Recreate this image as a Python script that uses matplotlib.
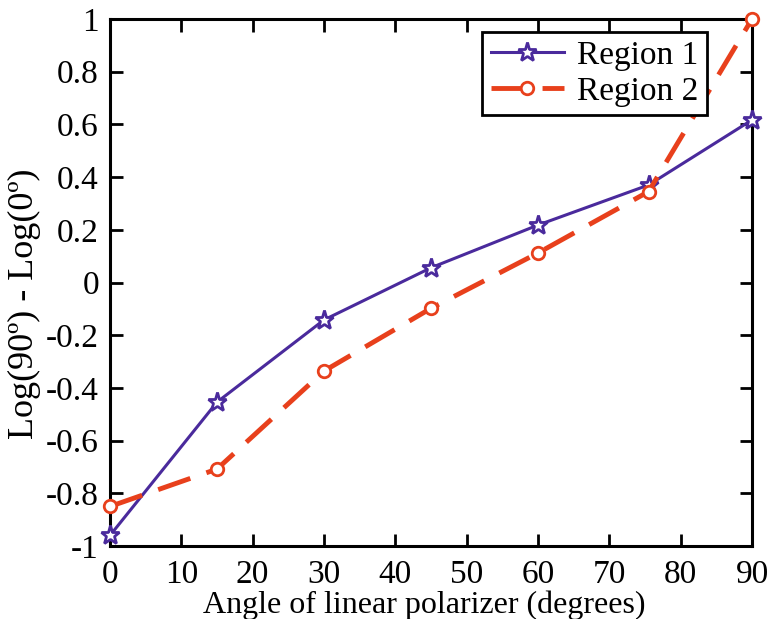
import matplotlib
matplotlib.use('Agg')
import matplotlib.pyplot as plt

# angle of linear polarizer (degrees)
angle_r1 = [0, 15, 30, 45, 60, 75.5, 90]
angle_r2 = [0, 15, 30, 45, 60, 75.5, 90]
# Log(90) - Log(0)
region1 = [-0.96, -0.454, -0.142, 0.056, 0.218, 0.37, 0.617]
region2 = [-0.85, -0.708, -0.336, -0.098, 0.112, 0.345, 1.0]

plt.rcParams['font.family'] = ['Liberation Serif', 'DejaVu Serif']
plt.rcParams['font.size'] = 24

fig = plt.figure(figsize=(7.71, 6.19), dpi=100)
ax = fig.add_axes([110 / 771, 1 - 546 / 619, 642 / 771, 527 / 619])

ax.plot(angle_r1, region1, color='#4a2a9c', linewidth=2.2, marker='*',
        markersize=14, markerfacecolor='white', markeredgecolor='#4a2a9c',
        markeredgewidth=2, label='Region 1', clip_on=False, zorder=3)
ax.plot(angle_r2, region2, color='#e8401c', linewidth=3.5, dashes=(7, 3.5),
        marker='o', markersize=9, markerfacecolor='white',
        markeredgecolor='#e8401c', markeredgewidth=2, label='Region 2',
        clip_on=False, zorder=3)

ax.set_xlim(0, 90)
ax.set_ylim(-1, 1)
ax.set_xticks(range(0, 91, 10))
ax.set_yticks([-1, -0.8, -0.6, -0.4, -0.2, 0, 0.2, 0.4, 0.6, 0.8, 1])
ax.set_yticklabels(['-1', '-0.8', '-0.6', '-0.4', '-0.2', '0', '0.2', '0.4',
                    '0.6', '0.8', '1'])
ax.tick_params(direction='in', length=9, width=2, top=True, right=True)
ax.tick_params(axis='x', pad=10)
ax.tick_params(axis='y', pad=8)
for s in ax.spines.values():
    s.set_linewidth(2.2)

ax.set_xlabel('Angle of linear polarizer (degrees)', fontsize=23, labelpad=-1)
ax.xaxis.set_label_coords(0.489, -0.085)
ax.set_ylabel('Log(90º) - Log(0º)', fontsize=26, labelpad=2)
ax.yaxis.set_label_coords(-0.107, 0.46)

leg = ax.legend(loc='upper right', bbox_to_anchor=(0.93, 0.975), frameon=True,
                fancybox=False, edgecolor='black', framealpha=1,
                handlelength=2.2, borderpad=0.25, labelspacing=0.15,
                handletextpad=0.4, borderaxespad=0)
leg.get_frame().set_linewidth(2)

fig.savefig('out.png', dpi=100)
